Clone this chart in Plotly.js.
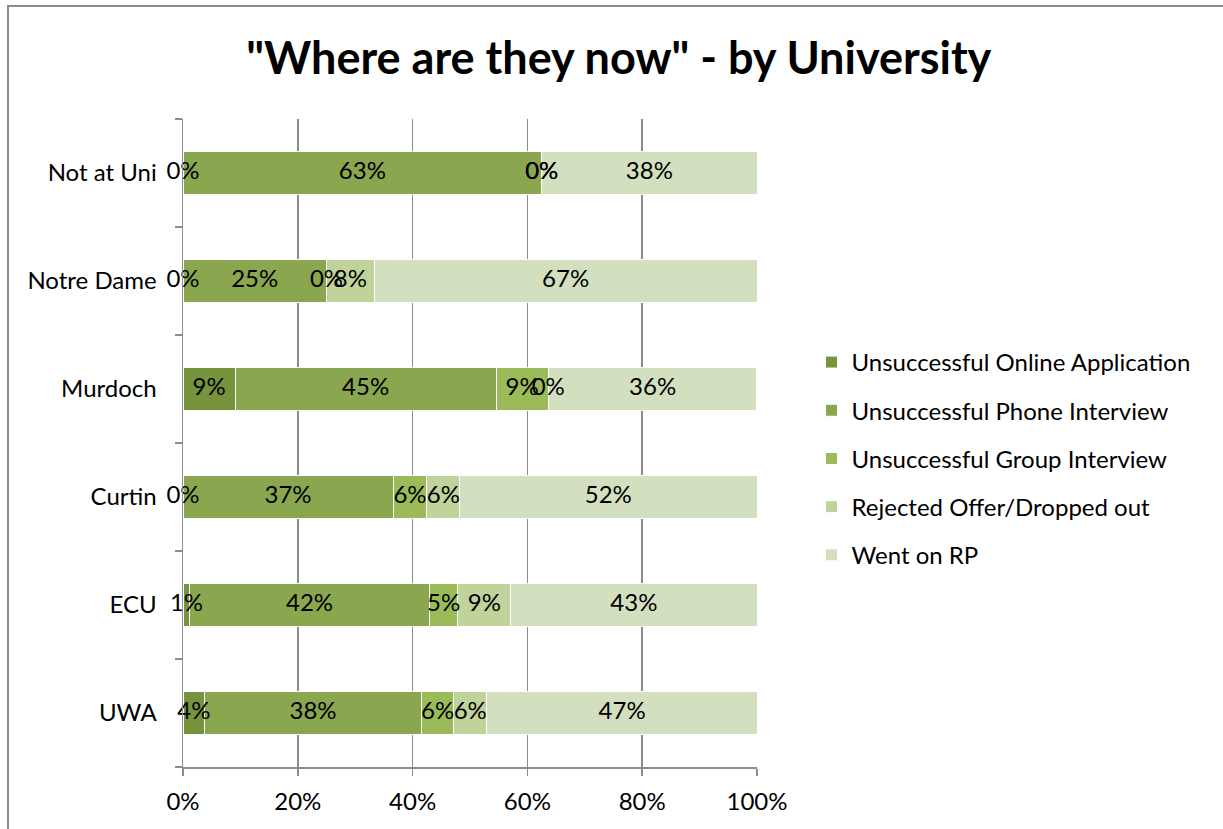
<!DOCTYPE html>
<html>
<head>
<meta charset="utf-8">
<script src="https://cdn.plot.ly/plotly-3.0.1.min.js"></script>
<style>
html,body{margin:0;padding:0;background:#fff;}
#chart{position:absolute;left:0;top:0;width:1223px;height:829px;}
#frame{position:absolute;left:7px;top:5px;width:1300px;height:900px;border-left:2px solid #8c8c8c;border-top:2px solid #8c8c8c;pointer-events:none;}
</style>
</head>
<body>
<div id="chart"></div>
<div id="frame"></div>
<script>
// Categories bottom to top
const universities = ["UWA", "ECU", "Curtin", "Murdoch", "Notre Dame", "Not at Uni"];
const seriesNames = [
  "Unsuccessful Online Application",
  "Unsuccessful Phone Interview",
  "Unsuccessful Group Interview",
  "Rejected Offer/Dropped out",
  "Went on RP"
];
// Shares in percent per university (same order as universities)
const onlineApp   = [3.8, 1.2, 0.0, 9.09, 0.0, 0.0];
const phoneInt    = [37.7, 41.7, 36.6, 45.45, 25.0, 62.5];
const groupInt    = [5.7, 5.0, 5.9, 9.09, 0.0, 0.0];
const rejected    = [5.7, 9.2, 5.7, 0.0, 8.33, 0.0];
const wentOnRP    = [47.2, 42.9, 51.8, 36.36, 66.67, 37.5];
const xTickVals   = [0, 20, 40, 60, 80, 100];
const xTickText   = ["0%", "20%", "40%", "60%", "80%", "100%"];

const seriesValues = [onlineApp, phoneInt, groupInt, rejected, wentOnRP];
const colors = ["#77933C", "#8AA64E", "#9BBB59", "#BFD39B", "#D3E0BF"];
const FONT = "Lato, 'Open Sans', sans-serif";

const traces = [];
const cum = universities.map(() => 0);
seriesValues.forEach((vals, i) => {
  traces.push({
    type: "bar", orientation: "h", name: seriesNames[i],
    y: universities, x: vals,
    marker: {color: colors[i], line: {color: "#ffffff", width: 1}},
    legendgroup: "g" + i, hoverinfo: "name+x"
  });
});
const textTraces = [];
seriesValues.forEach((vals, i) => {
  const mids = vals.map((v, j) => { const m = cum[j] + v / 2; cum[j] += v; return m; });
  textTraces.push({
    type: "scatter", mode: "text", y: universities, x: mids,
    text: vals.map(v => Math.round(v) + "%"),
    textposition: "middle center",
    textfont: {family: FONT, size: 24, color: "#000"},
    showlegend: false, hoverinfo: "skip", cliponaxis: false
  });
});

const layout = {
  width: 1223, height: 829,
  paper_bgcolor: "#fff", plot_bgcolor: "#fff",
  margin: {l: 183, r: 466, t: 119, b: 62},
  barmode: "stack", bargap: 0.6,
  font: {family: FONT, size: 24, color: "#000"},
  title: {text: "<b>\"Where are they now\" - by University</b>", x: 0.506, xanchor: "center", y: 0.93, yanchor: "middle",
          font: {family: FONT, size: 45, color: "#000"}},
  xaxis: {range: [0, 100], tickvals: xTickVals, ticktext: xTickText,
          showgrid: true, gridcolor: "#8c8c8c", gridwidth: 1.5,
          showline: true, linecolor: "#8c8c8c", linewidth: 1.5,
          ticks: "outside", ticklen: 7, tickcolor: "#8c8c8c", tickwidth: 1.5,
          ticklabelstandoff: 6,
          zeroline: false, fixedrange: true, tickfont: {size: 24}},
  yaxis: {type: "category", categoryorder: "array", categoryarray: universities,
          showline: true, linecolor: "#8c8c8c", linewidth: 1.5,
          ticks: "outside", ticklen: 7, tickcolor: "#8c8c8c", tickwidth: 1.5,
          tickson: "boundaries", showgrid: false, ticklabelstandoff: 20,
          fixedrange: true, tickfont: {size: 24}},
  showlegend: true,
  legend: {x: 1.095, xanchor: "left", y: 0.659, yanchor: "top",
           traceorder: "grouped", tracegroupgap: 14,
           font: {family: FONT, size: 24, color: "#000"}, itemwidth: 30}
};

Plotly.newPlot("chart", traces.concat(textTraces), layout, {displayModeBar: false, staticPlot: true});
</script>
</body>
</html>
